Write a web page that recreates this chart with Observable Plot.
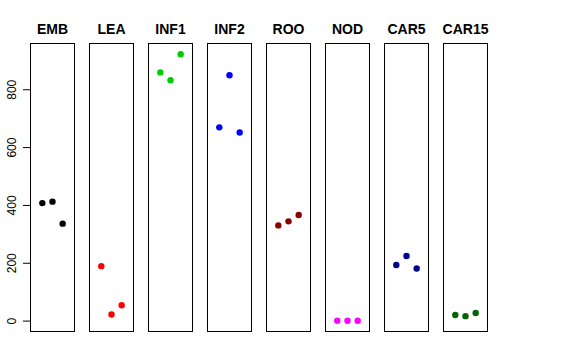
<!DOCTYPE html>
<html>
<head>
<meta charset="utf-8">
<script src="https://cdn.jsdelivr.net/npm/d3@7"></script>
<script src="https://cdn.jsdelivr.net/npm/@observablehq/plot@0.6"></script>
<style>
  html, body { margin: 0; padding: 0; background: #fff; }
  #chart svg { display: block; }
</style>
</head>
<body>
<div id="chart"></div>
<script>
const tissues = ["EMB", "LEA", "INF1", "INF2", "ROO", "NOD", "CAR5", "CAR15"];
const colors = ["#000000", "#FF0000", "#00CD00", "#0000FF", "#8B0000", "#FF00FF", "#00008B", "#006400"];
const replicates = [1, 2, 3];
const values = [
  [408, 413, 337],
  [190, 23, 55],
  [860, 833, 923],
  [670, 850, 652],
  [331, 345, 367],
  [1, 1, 1],
  [194, 225, 182],
  [21, 17, 28]
];
const yTicks = [0, 200, 400, 600, 800];

const table = [];
tissues.forEach((t, i) => {
  replicates.forEach((r, j) => table.push({tissue: t, rep: r, value: values[i][j]}));
});

const chart = Plot.plot({
  width: 576,
  height: 360,
  marginTop: 43,
  marginBottom: 29,
  marginLeft: 28.7,
  marginRight: 88,
  style: {fontFamily: "'Liberation Sans', Arial, sans-serif", fontSize: "12px", color: "black", background: "white"},
  fx: {domain: tissues, paddingInner: 0.247, paddingOuter: 0, axis: null},
  x: {domain: [-0.16, 4.16], axis: null},
  y: {domain: [-36, 960], axis: null},
  color: {domain: tissues, range: colors},
  marks: [
    Plot.frame({stroke: "black", strokeWidth: 1}),
    Plot.axisY({ticks: yTicks, tickSize: 7, tickRotate: -90, tickPadding: 8, fontSize: 12, stroke: "black", fill: "black", label: null}),
    Plot.text(tissues, {fx: d => d, text: d => d, frameAnchor: "top", lineAnchor: "middle", dy: -13.7, fontWeight: "bold", fontSize: 14, fill: "black"}),
    Plot.dot(table, {fx: "tissue", x: "rep", y: "value", fill: "tissue", r: 3.2})
  ]
});
document.getElementById("chart").appendChild(chart);
</script>
</body>
</html>
